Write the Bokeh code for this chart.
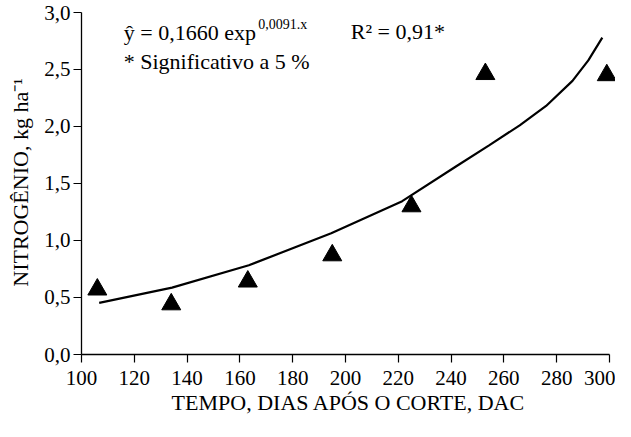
from bokeh.plotting import figure
from bokeh.models import Range1d, Label, FixedTicker, CustomJSTickFormatter
from bokeh.embed import file_html
from bokeh.resources import INLINE

# ---- data ----
dias = [106, 134, 163, 195, 225, 253, 299]
nitrogenio = [0.57, 0.44, 0.64, 0.87, 1.30, 2.46, 2.45]

# fitted curve
curva_dias = [106.7, 134.3, 163.4, 194.6, 221.5, 241.7, 254.4, 266.0, 276.0, 286.0, 292.0, 297.3]
curva_n = [0.453, 0.587, 0.783, 1.063, 1.345, 1.647, 1.835, 2.01, 2.18, 2.40, 2.58, 2.78]

x_ticks = [100, 120, 140, 160, 180, 200, 220, 240, 260, 280, 300]
y_ticks = [0.0, 0.5, 1.0, 1.5, 2.0, 2.5, 3.0]

eq_main = "ŷ = 0,1660 exp"
eq_sup = "0,0091.x"
r2_text = "R² = 0,91*"
sig_text = "* Significativo a 5 %"
x_title = "TEMPO, DIAS APÓS O CORTE, DAC"
y_title = "NITROGÊNIO, kg ha⁻¹"

FONT = "'Liberation Serif', 'Times New Roman', serif"

p = figure(width=615, height=421, output_backend="svg", toolbar_location=None,
           x_range=Range1d(100, 302.3), y_range=Range1d(0, 3.0175),
           min_border_left=81, min_border_right=0, min_border_top=10,
           min_border_bottom=67, background_fill_color="white",
           border_fill_color="white")
p.outline_line_color = None
p.xgrid.visible = False
p.ygrid.visible = False

for ax in (p.xaxis[0], p.yaxis[0]):
    ax.axis_line_color = "black"
    ax.axis_line_width = 1.3
    ax.major_tick_line_color = "black"
    ax.major_tick_line_width = 1.2
    ax.major_tick_out = 8
    ax.major_tick_in = 0
    ax.minor_tick_out = 0
    ax.minor_tick_in = 0
    ax.major_label_text_font = FONT
    ax.major_label_text_font_size = "21px"
    ax.major_label_text_color = "black"
    ax.axis_label_text_font = FONT
    ax.axis_label_text_font_size = "22px"
    ax.axis_label_text_font_style = "normal"
    ax.axis_label_text_color = "black"

p.xaxis.ticker = FixedTicker(ticks=x_ticks)
p.yaxis.ticker = FixedTicker(ticks=y_ticks)
p.xaxis.bounds = (100, 300)
p.yaxis.bounds = (0, 3)
p.xaxis.major_label_standoff = 8
p.yaxis.major_label_standoff = 3
p.yaxis.formatter = CustomJSTickFormatter(code="return tick.toFixed(1).replace('.', ',');")
p.xaxis.axis_label = x_title
p.yaxis.axis_label = y_title
p.xaxis.axis_label_standoff = 2
p.yaxis.axis_label_standoff = 8

p.line(curva_dias, curva_n, line_color="black", line_width=2.2)
p.scatter(dias, nitrogenio, marker="triangle", size=19, fill_color="black",
          line_color="black")

def lab(x, y, text, size="22px", **kw):
    p.add_layout(Label(x=x, y=y, text=text, text_font=FONT, text_font_size=size,
                       text_color="black", text_baseline="alphabetic", **kw))

lab(116.0, 2.826, eq_main)
lab(167.0, 2.898, eq_sup, size="14px")
lab(202.0, 2.83, r2_text)
lab(116.0, 2.567, sig_text)

open("out.html", "w").write(file_html(p, INLINE))
